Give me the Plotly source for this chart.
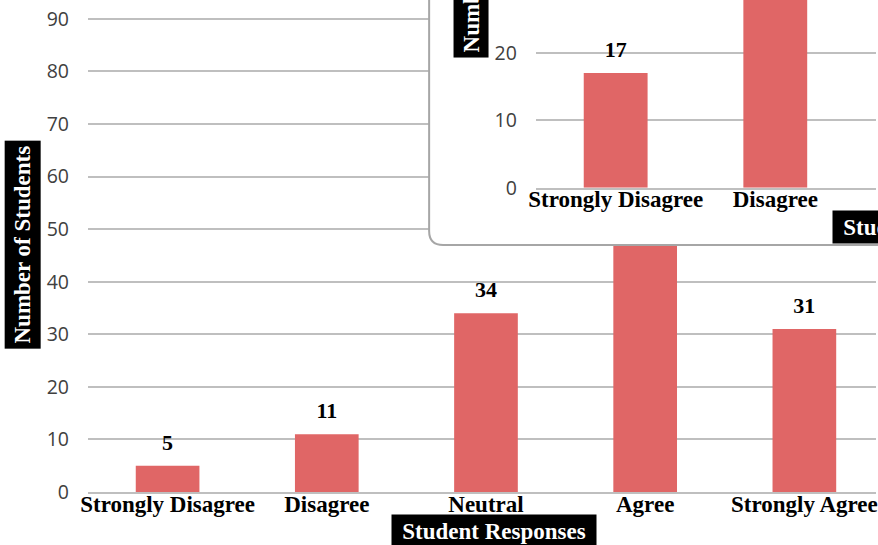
import plotly.graph_objects as go

# Survey responses (main chart)
categories = ["Strongly Disagree", "Disagree", "Neutral", "Agree", "Strongly Agree"]
main_counts = [5, 11, 34, 49, 31]
main_ticks = [0, 10, 20, 30, 40, 50, 60, 70, 80, 90]

# Second survey chart shown in the overlapping panel
inset_categories = ["Strongly Disagree", "Disagree"]
inset_counts = [17, 40]
inset_ticks = [0, 10, 20]

BAR = "#E06666"
GRID = "#BFBFBF"
SERIF = "Liberation Serif"
SANS = "Open Sans"

W, H = 878, 545
ML, MB = 88, 53
PW, PH = W - ML, H - MB


def px_x(px):
    return (px - ML) / PW


def px_y(py):
    return (PH - py) / PH


label_font = dict(family=SERIF, size=22, color="black", weight="bold")

fig = go.Figure()

# main bars + value labels
fig.add_trace(go.Bar(x=categories, y=main_counts, marker=dict(color=BAR, line=dict(width=0)),
                     width=0.4, xaxis="x", yaxis="y", hoverinfo="skip"))
fig.add_trace(go.Scatter(x=categories, y=main_counts, mode="markers+text",
                         text=[str(v) for v in main_counts], textposition="top center",
                         textfont=label_font,
                         marker=dict(size=15, color="rgba(0,0,0,0)"),
                         xaxis="x", yaxis="y", hoverinfo="skip"))

# white panel behind the second chart
fig.add_trace(go.Scatter(x=[0], y=[0], mode="markers", marker=dict(opacity=0),
                         xaxis="x2", yaxis="y2", hoverinfo="skip"))

# second chart bars + value labels
fig.add_trace(go.Bar(x=inset_categories, y=inset_counts, marker=dict(color=BAR, line=dict(width=0)),
                     width=0.4, xaxis="x3", yaxis="y3", hoverinfo="skip"))
fig.add_trace(go.Scatter(x=inset_categories, y=inset_counts, mode="markers+text",
                         text=[str(v) for v in inset_counts], textposition="top center",
                         textfont=label_font,
                         marker=dict(size=15, color="rgba(0,0,0,0)"),
                         xaxis="x3", yaxis="y3", hoverinfo="skip"))

cat_axis = dict(type="category", categoryorder="array", categoryarray=categories,
                showgrid=False, zeroline=False, ticks="", ticklabelstandoff=-10,
                showline=True, linecolor=GRID, linewidth=2,
                tickfont=dict(family=SERIF, size=23, color="black", weight="bold"),
                fixedrange=True)
val_axis = dict(showgrid=True, gridcolor=GRID, gridwidth=1.5, zeroline=False,
                showline=False, ticks="", ticklabelstandoff=18,
                tickfont=dict(family=SANS, size=19.5, color="#404040"),
                fixedrange=True)

panel_x0, panel_y0 = 430, 245

fig.update_layout(
    width=W, height=H,
    margin=dict(l=ML, r=0, t=0, b=MB, pad=0),
    paper_bgcolor="white", plot_bgcolor="white",
    showlegend=False, barmode="group",
    xaxis=dict(cat_axis, domain=[0, 1], anchor="y", range=[-0.5, 4.45]),
    yaxis=dict(val_axis, domain=[0, 1], anchor="x", range=[0, 93.6], tickvals=main_ticks),
    xaxis2=dict(domain=[px_x(panel_x0), 1], anchor="y2", visible=False, range=[0, 1]),
    yaxis2=dict(domain=[px_y(panel_y0), 1], anchor="x2", visible=False, range=[0, 1]),
    xaxis3=dict(cat_axis, domain=[px_x(537), 1], anchor="y3", range=[-0.5, 1.631]),
    yaxis3=dict(val_axis, domain=[px_y(187.7), 1], anchor="x3", range=[0, 27.81],
                tickvals=inset_ticks),
)

title_font = dict(family=SERIF, size=23, color="white", weight="bold")
box = dict(xref="paper", yref="paper", showarrow=False, font=title_font,
           bgcolor="black", borderpad=0, xanchor="center", yanchor="middle")

# axis titles in black boxes
fig.add_annotation(box, text="Number of Students", x=px_x(22.5), y=px_y(244.5),
                   textangle=-90, width=207, height=35)
fig.add_annotation(box, text="Student Responses", x=px_x(495), y=px_y(531),
                   width=204, height=32)
fig.add_annotation(box, text="Number of Students", x=px_x(472), y=px_y(-46),
                   textangle=-90, width=207, height=34)
fig.add_annotation(box, text="Student Responses", x=px_x(937), y=px_y(227),
                   width=204, height=32)

# rounded border of the panel
rx, ry = 14 / PW, 14 / PH
x0, yb = px_x(panel_x0), px_y(panel_y0)
fig.add_shape(type="path", xref="paper", yref="paper", layer="above",
              path=f"M {x0},1.2 L {x0},{yb + ry} Q {x0},{yb} {x0 + rx},{yb} L 1.2,{yb}",
              line=dict(color="#A6A6A6", width=2), fillcolor="rgba(0,0,0,0)")

fig.write_html("out.html")
